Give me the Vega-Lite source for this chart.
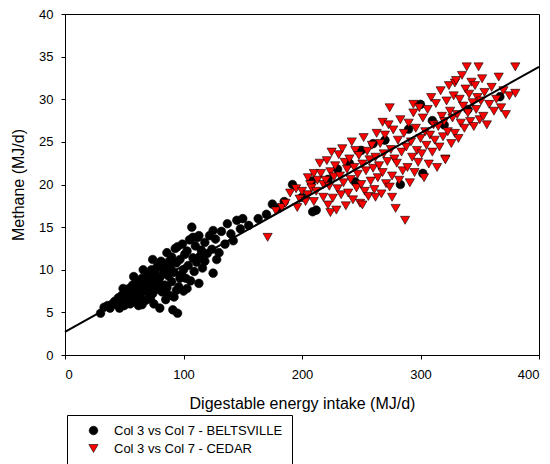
{
  "$schema": "https://vega.github.io/schema/vega-lite/v6.json",
  "autosize": {"type": "none"},
  "width": 474,
  "height": 341,
  "padding": {"left": 65, "top": 14, "right": 11, "bottom": 109},
  "background": "white",
  "config": {
    "font": "Liberation Sans",
    "view": {"stroke": "black", "strokeWidth": 1},
    "axis": {"grid": false, "domainColor": "black", "tickColor": "black", "labelColor": "black", "titleColor": "black", "labelFont": "Liberation Sans", "titleFont": "Liberation Sans", "labelFontSize": 13, "titleFontSize": 16, "titleFontWeight": "normal", "tickSize": 4}
  },
  "datasets": {
    "pts": [
      {"e":30,"m":4.9,"g":"B"},{"e":33,"m":5.6,"g":"B"},{"e":36,"m":5.8,"g":"B"},{"e":38,"m":5.5,"g":"B"},{"e":40,"m":6.0,"g":"B"},{"e":42,"m":6.3,"g":"B"},{"e":43,"m":6.0,"g":"B"},{"e":44,"m":5.9,"g":"B"},{"e":45,"m":6.7,"g":"B"},{"e":46,"m":5.5,"g":"B"},{"e":47,"m":6.2,"g":"B"},{"e":48,"m":7.0,"g":"B"},{"e":49,"m":7.8,"g":"B"},{"e":50,"m":6.5,"g":"B"},{"e":50,"m":5.8,"g":"B"},{"e":51,"m":6.0,"g":"B"},{"e":52,"m":7.2,"g":"B"},{"e":53,"m":6.8,"g":"B"},{"e":54,"m":7.8,"g":"B"},{"e":55,"m":6.0,"g":"B"},{"e":56,"m":7.4,"g":"B"},{"e":57,"m":8.2,"g":"B"},{"e":58,"m":6.6,"g":"B"},{"e":58,"m":9.2,"g":"B"},{"e":59,"m":7.0,"g":"B"},{"e":60,"m":8.0,"g":"B"},{"e":60,"m":6.2,"g":"B"},{"e":61,"m":7.6,"g":"B"},{"e":62,"m":8.5,"g":"B"},{"e":62,"m":5.8,"g":"B"},{"e":63,"m":6.9,"g":"B"},{"e":64,"m":7.3,"g":"B"},{"e":65,"m":9.0,"g":"B"},{"e":65,"m":5.9,"g":"B"},{"e":66,"m":8.1,"g":"B"},{"e":66,"m":10.0,"g":"B"},{"e":67,"m":7.5,"g":"B"},{"e":68,"m":6.4,"g":"B"},{"e":68,"m":9.5,"g":"B"},{"e":69,"m":8.8,"g":"B"},{"e":70,"m":7.9,"g":"B"},{"e":70,"m":9.5,"g":"B"},{"e":71,"m":6.8,"g":"B"},{"e":72,"m":8.3,"g":"B"},{"e":72,"m":6.6,"g":"B"},{"e":73,"m":10.0,"g":"B"},{"e":74,"m":7.2,"g":"B"},{"e":74,"m":11.2,"g":"B"},{"e":75,"m":8.9,"g":"B"},{"e":75,"m":6.0,"g":"B"},{"e":76,"m":9.6,"g":"B"},{"e":77,"m":7.7,"g":"B"},{"e":78,"m":10.4,"g":"B"},{"e":78,"m":7.8,"g":"B"},{"e":79,"m":8.5,"g":"B"},{"e":80,"m":5.5,"g":"B"},{"e":80,"m":9.1,"g":"B"},{"e":81,"m":11.0,"g":"B"},{"e":82,"m":7.4,"g":"B"},{"e":82,"m":10.8,"g":"B"},{"e":83,"m":9.9,"g":"B"},{"e":84,"m":8.2,"g":"B"},{"e":85,"m":10.6,"g":"B"},{"e":85,"m":6.5,"g":"B"},{"e":86,"m":12.0,"g":"B"},{"e":86,"m":7.9,"g":"B"},{"e":87,"m":9.3,"g":"B"},{"e":88,"m":7.0,"g":"B"},{"e":88,"m":11.0,"g":"B"},{"e":89,"m":10.2,"g":"B"},{"e":90,"m":11.5,"g":"B"},{"e":90,"m":8.6,"g":"B"},{"e":91,"m":5.3,"g":"B"},{"e":92,"m":9.7,"g":"B"},{"e":92,"m":6.8,"g":"B"},{"e":93,"m":12.5,"g":"B"},{"e":94,"m":10.8,"g":"B"},{"e":94,"m":7.6,"g":"B"},{"e":95,"m":4.9,"g":"B"},{"e":95,"m":12.7,"g":"B"},{"e":96,"m":8.0,"g":"B"},{"e":97,"m":11.2,"g":"B"},{"e":97,"m":9.0,"g":"B"},{"e":98,"m":9.4,"g":"B"},{"e":99,"m":13.0,"g":"B"},{"e":100,"m":10.0,"g":"B"},{"e":100,"m":7.5,"g":"B"},{"e":101,"m":11.8,"g":"B"},{"e":102,"m":9.0,"g":"B"},{"e":103,"m":12.2,"g":"B"},{"e":103,"m":7.8,"g":"B"},{"e":104,"m":10.5,"g":"B"},{"e":105,"m":13.5,"g":"B"},{"e":106,"m":8.7,"g":"B"},{"e":107,"m":15.0,"g":"B"},{"e":108,"m":11.4,"g":"B"},{"e":108,"m":13.8,"g":"B"},{"e":109,"m":9.8,"g":"B"},{"e":110,"m":12.8,"g":"B"},{"e":111,"m":10.9,"g":"B"},{"e":112,"m":13.8,"g":"B"},{"e":113,"m":8.4,"g":"B"},{"e":113,"m":14.0,"g":"B"},{"e":114,"m":11.6,"g":"B"},{"e":115,"m":12.3,"g":"B"},{"e":116,"m":10.2,"g":"B"},{"e":118,"m":13.2,"g":"B"},{"e":118,"m":11.0,"g":"B"},{"e":120,"m":11.9,"g":"B"},{"e":122,"m":14.0,"g":"B"},{"e":124,"m":12.4,"g":"B"},{"e":125,"m":9.6,"g":"B"},{"e":125,"m":14.6,"g":"B"},{"e":127,"m":13.6,"g":"B"},{"e":128,"m":11.2,"g":"B"},{"e":130,"m":12.0,"g":"B"},{"e":132,"m":14.5,"g":"B"},{"e":135,"m":13.0,"g":"B"},{"e":137,"m":15.4,"g":"B"},{"e":140,"m":14.2,"g":"B"},{"e":142,"m":13.4,"g":"B"},{"e":145,"m":15.8,"g":"B"},{"e":148,"m":14.8,"g":"B"},{"e":150,"m":16.0,"g":"B"},{"e":155,"m":15.2,"g":"B"},{"e":163,"m":16.0,"g":"B"},{"e":170,"m":16.5,"g":"B"},{"e":175,"m":17.7,"g":"B"},{"e":180,"m":17.2,"g":"B"},{"e":185,"m":18.0,"g":"B"},{"e":192,"m":20.0,"g":"B"},{"e":200,"m":18.5,"g":"B"},{"e":208,"m":20.4,"g":"B"},{"e":209,"m":16.8,"g":"B"},{"e":212,"m":17.0,"g":"B"},{"e":222,"m":20.6,"g":"B"},{"e":230,"m":21.8,"g":"B"},{"e":240,"m":22.5,"g":"B"},{"e":245,"m":20.3,"g":"B"},{"e":250,"m":24.0,"g":"B"},{"e":260,"m":24.8,"g":"B"},{"e":270,"m":25.2,"g":"B"},{"e":283,"m":20.0,"g":"B"},{"e":290,"m":26.5,"g":"B"},{"e":300,"m":29.4,"g":"B"},{"e":302,"m":21.3,"g":"B"},{"e":310,"m":27.5,"g":"B"},{"e":320,"m":27.0,"g":"B"},{"e":340,"m":28.8,"g":"B"},{"e":367,"m":30.3,"g":"B"},
      {"e":171,"m":13.8,"g":"C"},{"e":178,"m":16.9,"g":"C"},{"e":183,"m":17.3,"g":"C"},{"e":186,"m":17.8,"g":"C"},{"e":190,"m":19.0,"g":"C"},{"e":195,"m":19.5,"g":"C"},{"e":196,"m":17.3,"g":"C"},{"e":198,"m":18.3,"g":"C"},{"e":200,"m":19.2,"g":"C"},{"e":203,"m":18.0,"g":"C"},{"e":205,"m":20.8,"g":"C"},{"e":205,"m":18.8,"g":"C"},{"e":207,"m":20.0,"g":"C"},{"e":208,"m":19.6,"g":"C"},{"e":210,"m":21.3,"g":"C"},{"e":210,"m":18.0,"g":"C"},{"e":212,"m":19.2,"g":"C"},{"e":213,"m":20.5,"g":"C"},{"e":215,"m":22.5,"g":"C"},{"e":216,"m":21.3,"g":"C"},{"e":218,"m":18.5,"g":"C"},{"e":218,"m":20.0,"g":"C"},
      {"e":220,"m":20.5,"g":"C"},{"e":221,"m":22.8,"g":"C"},{"e":222,"m":17.6,"g":"C"},{"e":223,"m":19.8,"g":"C"},{"e":224,"m":21.5,"g":"C"},{"e":224,"m":16.7,"g":"C"},{"e":225,"m":23.8,"g":"C"},{"e":226,"m":18.4,"g":"C"},{"e":227,"m":20.9,"g":"C"},{"e":228,"m":22.2,"g":"C"},{"e":229,"m":17.0,"g":"C"},{"e":230,"m":19.5,"g":"C"},{"e":231,"m":23.5,"g":"C"},{"e":232,"m":21.0,"g":"C"},{"e":233,"m":18.8,"g":"C"},{"e":234,"m":24.2,"g":"C"},{"e":235,"m":20.2,"g":"C"},{"e":236,"m":22.6,"g":"C"},{"e":237,"m":17.5,"g":"C"},{"e":238,"m":21.8,"g":"C"},{"e":239,"m":19.0,"g":"C"},{"e":240,"m":23.0,"g":"C"},{"e":241,"m":20.6,"g":"C"},{"e":242,"m":25.0,"g":"C"},{"e":243,"m":18.2,"g":"C"},{"e":244,"m":22.0,"g":"C"},{"e":245,"m":24.0,"g":"C"},{"e":246,"m":19.6,"g":"C"},{"e":247,"m":21.2,"g":"C"},{"e":248,"m":23.4,"g":"C"},{"e":249,"m":17.8,"g":"C"},{"e":250,"m":20.0,"g":"C"},{"e":251,"m":22.4,"g":"C"},{"e":251,"m":17.6,"g":"C"},{"e":252,"m":25.5,"g":"C"},{"e":253,"m":19.2,"g":"C"},{"e":254,"m":21.6,"g":"C"},{"e":255,"m":23.9,"g":"C"},{"e":256,"m":18.6,"g":"C"},{"e":257,"m":22.9,"g":"C"},{"e":258,"m":20.4,"g":"C"},{"e":259,"m":24.6,"g":"C"},{"e":260,"m":21.9,"g":"C"},{"e":261,"m":19.4,"g":"C"},{"e":262,"m":23.2,"g":"C"},{"e":262,"m":18.5,"g":"C"},{"e":263,"m":26.0,"g":"C"},{"e":264,"m":20.8,"g":"C"},{"e":265,"m":22.2,"g":"C"},{"e":266,"m":24.8,"g":"C"},{"e":267,"m":18.9,"g":"C"},{"e":268,"m":21.4,"g":"C"},{"e":268,"m":27.3,"g":"C"},{"e":269,"m":23.6,"g":"C"},{"e":270,"m":25.8,"g":"C"},{"e":271,"m":20.1,"g":"C"},{"e":272,"m":22.7,"g":"C"},{"e":273,"m":27.0,"g":"C"},{"e":274,"m":19.7,"g":"C"},{"e":274,"m":29.0,"g":"C"},{"e":275,"m":24.1,"g":"C"},{"e":276,"m":21.0,"g":"C"},{"e":276,"m":18.5,"g":"C"},{"e":277,"m":26.4,"g":"C"},{"e":278,"m":23.0,"g":"C"},{"e":279,"m":17.2,"g":"C"},{"e":280,"m":22.5,"g":"C"},{"e":281,"m":25.2,"g":"C"},{"e":282,"m":20.5,"g":"C"},{"e":283,"m":27.6,"g":"C"},{"e":284,"m":23.8,"g":"C"},{"e":285,"m":21.6,"g":"C"},{"e":286,"m":26.0,"g":"C"},{"e":287,"m":15.8,"g":"C"},{"e":288,"m":24.4,"g":"C"},{"e":289,"m":22.0,"g":"C"},{"e":290,"m":27.2,"g":"C"},{"e":291,"m":20.2,"g":"C"},{"e":292,"m":25.0,"g":"C"},{"e":293,"m":23.2,"g":"C"},{"e":294,"m":28.4,"g":"C"},{"e":294,"m":29.4,"g":"C"},{"e":295,"m":21.4,"g":"C"},{"e":296,"m":26.6,"g":"C"},{"e":297,"m":24.0,"g":"C"},{"e":298,"m":22.6,"g":"C"},{"e":299,"m":29.0,"g":"C"},{"e":300,"m":25.4,"g":"C"},{"e":301,"m":23.6,"g":"C"},{"e":302,"m":27.8,"g":"C"},{"e":303,"m":20.8,"g":"C"},{"e":304,"m":26.2,"g":"C"},{"e":305,"m":24.6,"g":"C"},{"e":306,"m":28.8,"g":"C"},{"e":307,"m":22.4,"g":"C"},{"e":308,"m":25.8,"g":"C"},{"e":309,"m":30.2,"g":"C"},{"e":310,"m":23.8,"g":"C"},{"e":311,"m":27.0,"g":"C"},{"e":312,"m":25.2,"g":"C"},{"e":313,"m":29.5,"g":"C"},{"e":314,"m":22.0,"g":"C"},{"e":315,"m":26.8,"g":"C"},{"e":316,"m":24.4,"g":"C"},{"e":317,"m":31.0,"g":"C"},{"e":318,"m":28.0,"g":"C"},{"e":319,"m":25.6,"g":"C"},{"e":320,"m":27.4,"g":"C"},{"e":321,"m":23.0,"g":"C"},{"e":321,"m":22.9,"g":"C"},{"e":322,"m":29.8,"g":"C"},{"e":323,"m":26.2,"g":"C"},{"e":324,"m":31.6,"g":"C"},{"e":325,"m":28.6,"g":"C"},{"e":326,"m":24.8,"g":"C"},{"e":327,"m":27.8,"g":"C"},{"e":328,"m":30.4,"g":"C"},{"e":329,"m":26.0,"g":"C"},{"e":329,"m":31.9,"g":"C"},{"e":330,"m":32.2,"g":"C"},{"e":331,"m":28.2,"g":"C"},{"e":332,"m":25.4,"g":"C"},{"e":333,"m":30.0,"g":"C"},{"e":334,"m":27.2,"g":"C"},{"e":335,"m":32.8,"g":"C"},{"e":336,"m":29.2,"g":"C"},{"e":337,"m":26.6,"g":"C"},{"e":338,"m":31.2,"g":"C"},{"e":339,"m":33.8,"g":"C"},{"e":340,"m":28.4,"g":"C"},{"e":341,"m":30.6,"g":"C"},{"e":342,"m":27.4,"g":"C"},{"e":343,"m":32.0,"g":"C"},{"e":344,"m":29.6,"g":"C"},{"e":345,"m":26.8,"g":"C"},{"e":346,"m":31.6,"g":"C"},{"e":347,"m":28.8,"g":"C"},{"e":348,"m":30.2,"g":"C"},{"e":349,"m":33.8,"g":"C"},{"e":350,"m":27.6,"g":"C"},{"e":351,"m":29.8,"g":"C"},{"e":352,"m":32.4,"g":"C"},{"e":353,"m":28.0,"g":"C"},{"e":354,"m":30.8,"g":"C"},{"e":356,"m":27.0,"g":"C"},{"e":358,"m":29.4,"g":"C"},{"e":360,"m":31.4,"g":"C"},{"e":362,"m":28.6,"g":"C"},{"e":364,"m":30.0,"g":"C"},{"e":366,"m":32.6,"g":"C"},{"e":368,"m":29.0,"g":"C"},{"e":370,"m":31.0,"g":"C"},{"e":372,"m":28.2,"g":"C"},{"e":375,"m":30.4,"g":"C"},{"e":380,"m":33.8,"g":"C"},{"e":380,"m":30.7,"g":"C"}
    ],
    "fit": [{"e": 0, "m": 2.7}, {"e": 400, "m": 33.8}]
  },
  "layer": [
    {
      "data": {"name": "pts"},
      "mark": {"type": "point", "filled": true, "opacity": 1, "stroke": "black", "strokeWidth": 0.6},
      "encoding": {
        "x": {"field": "e", "type": "quantitative", "scale": {"domain": [0, 400], "nice": false}, "axis": {"values": [0, 100, 200, 300, 400], "title": "Digestable energy intake (MJ/d)", "labelPadding": 9, "titlePadding": 14}},
        "y": {"field": "m", "type": "quantitative", "scale": {"domain": [0, 40], "nice": false}, "axis": {"values": [0, 5, 10, 15, 20, 25, 30, 35, 40], "title": "Methane (MJ/d)", "labelPadding": 8, "titlePadding": 12}},
        "color": {"field": "g", "type": "nominal", "scale": {"domain": ["B", "C"], "range": ["black", "red"]},
          "legend": {"title": null, "orient": "none", "legendX": 2, "legendY": 401, "strokeColor": "black", "fillColor": "white", "padding": 9, "symbolOffset": 11, "labelOffset": 14, "symbolSize": 80, "symbolStrokeColor": "black", "symbolStrokeWidth": 0.6, "labelFont": "Liberation Sans", "labelFontSize": 13, "labelColor": "black", "labelLimit": 400, "rowPadding": 4,
            "labelExpr": "datum.label == 'B' ? 'Col 3 vs Col 7 - BELTSVILLE   ' : 'Col 3 vs Col 7 - CEDAR'"}},
        "shape": {"field": "g", "type": "nominal", "scale": {"domain": ["B", "C"], "range": ["circle", "triangle-down"]}},
        "size": {"field": "g", "type": "nominal", "scale": {"domain": ["B", "C"], "range": [75, 85]}, "legend": null},
        "order": {"field": "g", "type": "nominal"}
      }
    },
    {
      "data": {"name": "fit"},
      "mark": {"type": "line", "color": "black", "strokeWidth": 2},
      "encoding": {
        "x": {"field": "e", "type": "quantitative"},
        "y": {"field": "m", "type": "quantitative"}
      }
    }
  ]
}
